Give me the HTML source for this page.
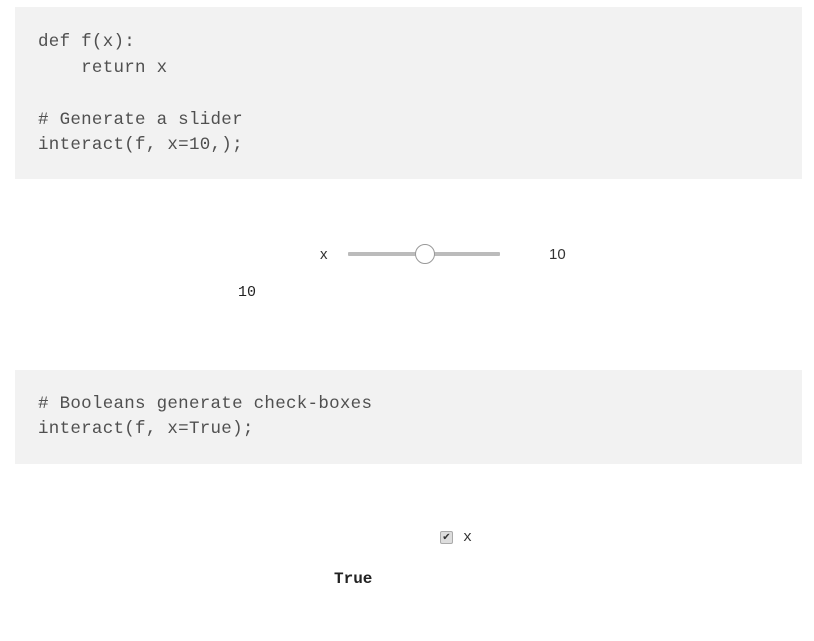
<!DOCTYPE html>
<html><head><meta charset="utf-8"><style>
html,body{margin:0;padding:0;background:#fff;width:814px;height:641px;overflow:hidden;position:relative}
.box{position:absolute;left:15px;width:787px;background:#f2f2f2}
.code{position:absolute;left:38px;font-family:"Liberation Mono",monospace;font-size:17.5px;letter-spacing:0.28px;color:#505050;white-space:pre;line-height:20px}
.t{position:absolute;font-family:"Liberation Sans",sans-serif;font-size:15px;color:#333;line-height:20px}
.m{position:absolute;font-family:"Liberation Mono",monospace;font-size:15px;color:#222;line-height:20px}
</style></head><body>
<div class="box" style="top:7px;height:172px"></div>
<div class="code" style="top:32px">def f(x):</div>
<div class="code" style="top:58px">    return x</div>
<div class="code" style="top:110px"># Generate a slider</div>
<div class="code" style="top:135px">interact(f, x=10,);</div>

<div class="t" style="left:320px;top:245px">x</div>
<div style="position:absolute;left:348px;top:252px;width:152px;height:4px;background:#bbb;border-radius:1px"></div>
<div style="position:absolute;left:415px;top:244px;width:18px;height:18px;border:1px solid #999;border-radius:50%;background:#fff"></div>
<div class="t" style="left:549px;top:245px">10</div>
<div class="m" style="left:238px;top:283px">10</div>

<div class="box" style="top:370px;height:94px"></div>
<div class="code" style="top:394px"># Booleans generate check-boxes</div>
<div class="code" style="top:419px">interact(f, x=True);</div>

<div style="position:absolute;left:440px;top:531px;width:11px;height:11px;border:1px solid #aaa;border-radius:2px;background:#ddd;font-size:10px;line-height:11px;text-align:center;color:#333">✔</div>
<div class="m" style="left:463px;top:528px;color:#333">x</div>
<div class="m" style="left:334px;top:569px;font-weight:bold;font-size:16px">True</div>
</body></html>
